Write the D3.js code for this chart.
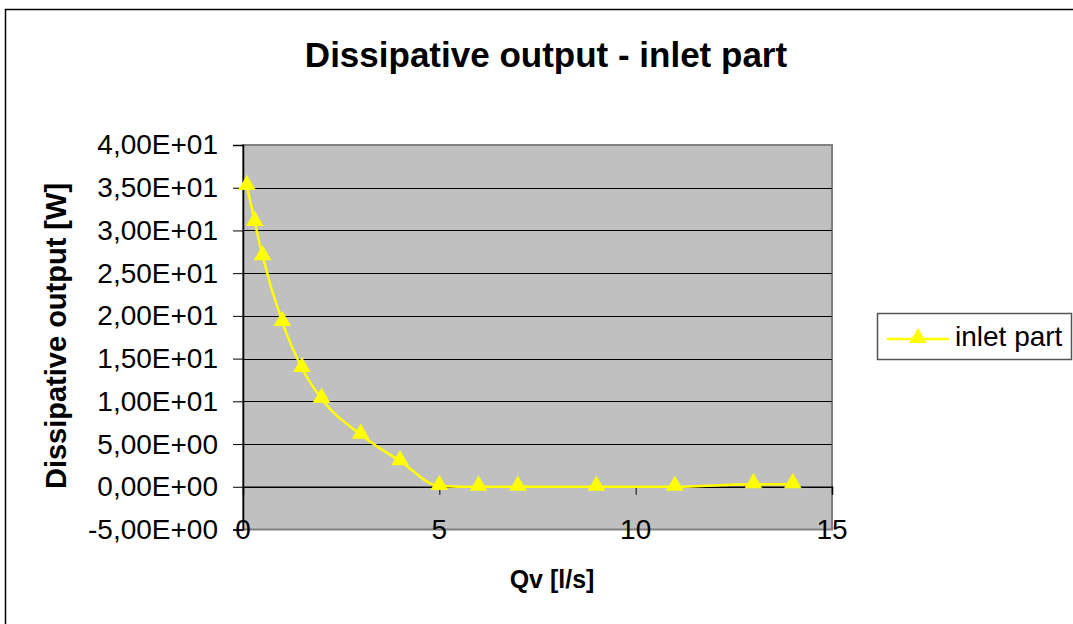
<!DOCTYPE html>
<html>
<head>
<meta charset="utf-8">
<script src="https://cdn.jsdelivr.net/npm/d3@7"></script>
<style>
  html, body { margin: 0; padding: 0; background: #fff; }
  svg { display: block; font-family: Arial, "Liberation Sans", sans-serif; }
</style>
</head>
<body>
<svg id="chart" width="1073" height="624"></svg>
<script>
// Flow rate Qv [l/s] and dissipative output [W] of the inlet part
const qv = [0.1, 0.3, 0.5, 1, 1.5, 2, 3, 4, 5, 6, 7, 9, 11, 13, 14];
const power = [35.2, 31.0, 27.0, 19.3, 13.9, 10.3, 6.1, 3.0, 0.1, 0, 0, 0, 0, 0.3, 0.3];

const xTicks = [0, 5, 10, 15];
const yTicks = [-5, 0, 5, 10, 15, 20, 25, 30, 35, 40];

const titleText = "Dissipative output - inlet part";
const xTitle = "Qv [l/s]";
const yTitle = "Dissipative output [W]";
const seriesName = "inlet part";

const svg = d3.select("#chart");
const plot = { left: 243, right: 832, top: 145, bottom: 529.5 };

const x = d3.scaleLinear().domain([0, 15]).range([plot.left, plot.right]);
const y = d3.scaleLinear().domain([-5, 40]).range([plot.bottom, plot.top]);

// Excel-style number format: 4,00E+01
function sci(v) {
  const [m, e] = v.toExponential(2).split("e");
  const sign = e[0] === "-" ? "-" : "+";
  const digits = e.replace(/[+-]/, "").padStart(2, "0");
  return m.replace(".", ",") + "E" + sign + digits;
}

// outer chart frame
svg.append("rect")
  .attr("x", 5.5).attr("y", 9.5)
  .attr("width", 1200).attr("height", 800)
  .attr("fill", "none").attr("stroke", "#000").attr("stroke-width", 1.5);

// plot area
svg.append("rect")
  .attr("x", plot.left).attr("y", plot.top)
  .attr("width", plot.right - plot.left).attr("height", plot.bottom - plot.top)
  .attr("fill", "#c0c0c0").attr("stroke", "#808080").attr("stroke-width", 2);

// horizontal gridlines
svg.append("g").selectAll("line")
  .data(yTicks.filter(d => d > -5 && d < 40))
  .join("line")
  .attr("x1", plot.left).attr("x2", plot.right)
  .attr("y1", d => Math.round(y(d)) + 0.5).attr("y2", d => Math.round(y(d)) + 0.5)
  .attr("stroke", "#000").attr("stroke-width", 1);

// y axis
const yAxis = svg.append("g")
  .attr("transform", `translate(${plot.left},0)`)
  .call(d3.axisLeft(y).tickValues(yTicks).tickFormat(sci).tickSize(10).tickPadding(15));
yAxis.select(".domain").attr("stroke", "#000").attr("stroke-width", 1.5);
yAxis.selectAll(".tick line").attr("stroke", "#000");
yAxis.selectAll(".tick text")
  .attr("font-size", 28).attr("fill", "#000")
  .attr("font-family", "Arial, 'Liberation Sans', sans-serif");

// x axis along the zero line
const xAxis = svg.append("g")
  .attr("transform", `translate(0,${y(0)})`)
  .call(d3.axisBottom(x).tickValues(xTicks).tickSize(8).tickFormat(d3.format("d")));
xAxis.select(".domain").attr("stroke", "#000").attr("stroke-width", 1.5);
xAxis.selectAll(".tick line").attr("stroke", "#000");
xAxis.selectAll(".tick text").remove();

// x tick labels sit below the plot area
svg.append("g").selectAll("text")
  .data(xTicks)
  .join("text")
  .attr("x", d => x(d)).attr("y", plot.bottom + 9)
  .attr("text-anchor", "middle")
  .attr("font-size", 28).attr("fill", "#000")
  .text(d => d);

// series line
const line = d3.line()
  .x((d, i) => x(qv[i]))
  .y(d => y(d))
  .curve(d3.curveMonotoneX);

svg.append("path")
  .datum(power)
  .attr("d", line)
  .attr("fill", "none")
  .attr("stroke", "#ffff00")
  .attr("stroke-width", 2.5);

// triangle markers
const tri = d3.symbol().type(d3.symbolTriangle).size(135);
svg.append("g").selectAll("path")
  .data(power)
  .join("path")
  .attr("d", tri)
  .attr("transform", (d, i) => `translate(${x(qv[i])},${y(d) - 1})`)
  .attr("fill", "#ffff00");

// titles
svg.append("text")
  .attr("x", 546).attr("y", 67)
  .attr("text-anchor", "middle")
  .attr("font-size", 35).attr("font-weight", "bold")
  .text(titleText);

svg.append("text")
  .attr("x", 552).attr("y", 588)
  .attr("text-anchor", "middle")
  .attr("font-size", 25).attr("font-weight", "bold")
  .text(xTitle);

svg.append("text")
  .attr("transform", "translate(66,336) rotate(-90)")
  .attr("text-anchor", "middle")
  .attr("font-size", 29).attr("font-weight", "bold")
  .text(yTitle);

// legend
const lg = svg.append("g");
lg.append("rect")
  .attr("x", 877.5).attr("y", 313.5)
  .attr("width", 194).attr("height", 46)
  .attr("fill", "#fff").attr("stroke", "#555").attr("stroke-width", 1.5);
lg.append("line")
  .attr("x1", 887).attr("x2", 949).attr("y1", 339).attr("y2", 339)
  .attr("stroke", "#ffff00").attr("stroke-width", 2.5);
lg.append("path")
  .attr("d", tri)
  .attr("transform", "translate(918,338)")
  .attr("fill", "#ffff00");
lg.append("text")
  .attr("x", 955).attr("y", 346)
  .attr("font-size", 28).attr("fill", "#000")
  .text(seriesName);
</script>
</body>
</html>
